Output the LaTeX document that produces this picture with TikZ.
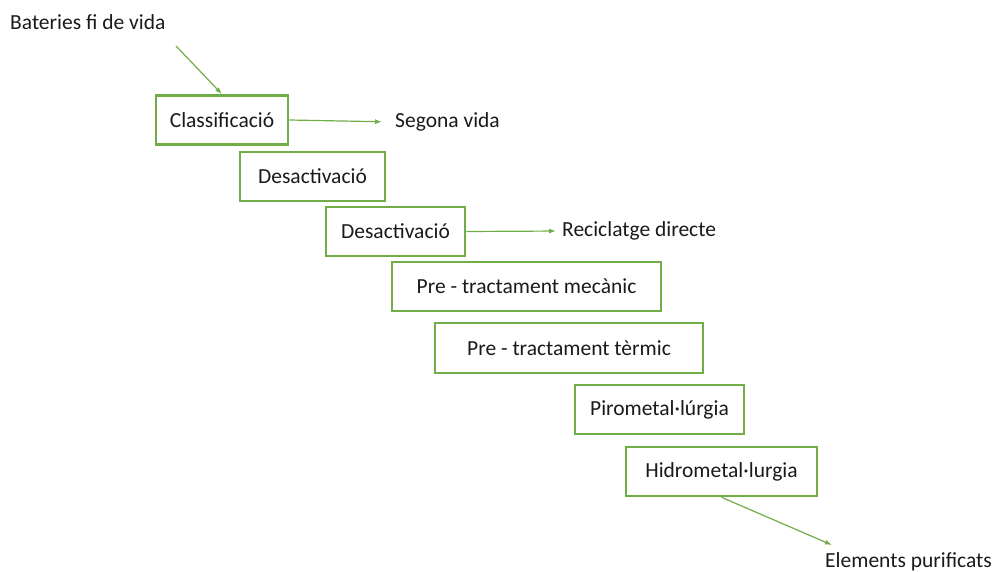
\documentclass[tikz,border=0pt]{standalone}
\usepackage{fontspec}
\setmainfont{Carlito}
\usepackage{tikz}
\usetikzlibrary{arrows.meta,positioning}
\definecolor{leaf}{HTML}{70AD47}
\definecolor{ink}{HTML}{1A1A1A}

\begin{document}
\begin{tikzpicture}[x=1pt,y=-1pt,
  stage/.style={draw=leaf,line width=2.6pt,fill=white,minimum height=49pt,inner sep=0pt,text=ink,font=\fontsize{21.5}{26}\selectfont},
  outtxt/.style={anchor=west,inner sep=0pt,text=ink,font=\fontsize{21.5}{26}\selectfont},
  flow/.style={-{Latex[length=7pt,width=5pt]},leaf,line width=1.2pt}]
\useasboundingbox (0,0) rectangle (998,572);
\node[outtxt] (bat) at (10,22) {Bateries fi de vida};
\node[stage,minimum width=132pt] (cls) at (222,120) {Classificació};
\node[stage,minimum width=145pt] (des1) at (312.5,176.5) {Desactivació};
\node[stage,minimum width=139pt] (des2) at (395.5,231.5) {Desactivació};
\node[stage,minimum width=269pt] (mec) at (526.5,286.5) {Pre - tractament mecànic};
\node[stage,minimum width=268pt,minimum height=50pt] (ter) at (569,348) {Pre - tractament tèrmic};
\node[stage,minimum width=169pt] (piro) at (659.5,409.5) {Pirometal·lúrgia};
\node[stage,minimum width=191pt] (hidro) at (721.5,471.5) {Hidrometal·lurgia};
\node[outtxt] (sv) at (395,122) {Segona vida};
\node[outtxt] (rd) at (562,231) {Reciclatge directe};
\node[outtxt] (ep) at (825,562) {Elements purificats};
\coordinate (in) at (176,46);
\coordinate (out) at (832,545);
\draw[flow] (in) -- (cls.north);
\draw[flow,shorten >=13pt] (cls.east) -- (sv.west);
\draw[flow,shorten >=6pt] (des2.east) -- (rd.west);
\draw[flow] (hidro.south) -- (out);
\end{tikzpicture}
\end{document}
